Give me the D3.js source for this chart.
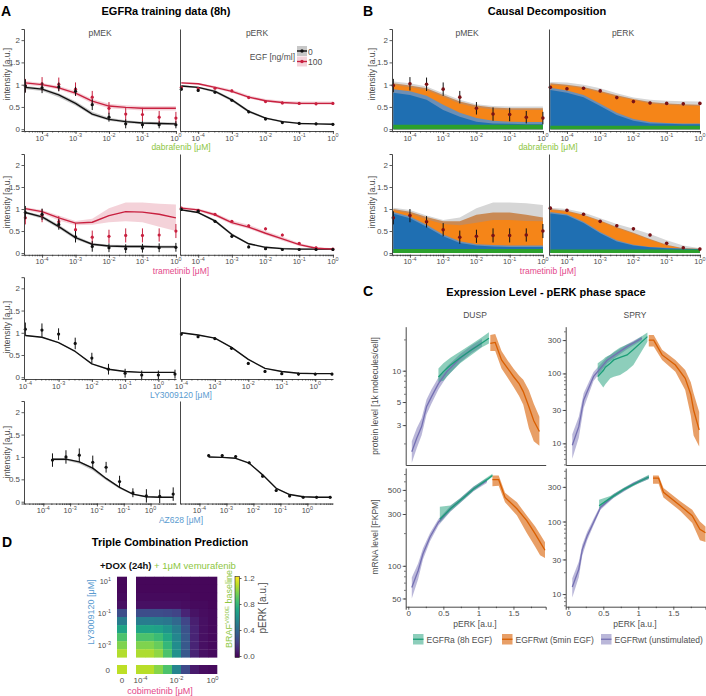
<!DOCTYPE html>
<html><head><meta charset="utf-8">
<script src="https://cdn.jsdelivr.net/npm/d3@7/dist/d3.min.js"></script>
<style>
html,body{margin:0;padding:0;background:#fff;}
svg{display:block;font-family:"Liberation Sans",Arial,Helvetica,sans-serif;}
</style></head>
<body><svg id="fig" width="706" height="696"></svg>
<script>
// ================= DATA =================
const dabDose=[3.16e-5,1e-4,3.16e-4,1e-3,3.16e-3,1e-2,3.16e-2,1e-1,3.16e-1,1];
const tramDose=[3.16e-5,1e-4,3.16e-4,1e-3,3.16e-3,1e-2,3.16e-2,1e-1,3.16e-1,1];
const lyDose=[1e-4,3.16e-4,1e-3,3.16e-3,1e-2,3.16e-2,1e-1,3.16e-1,1,3.16];
const azDose=[2.2e-4,7e-4,2.2e-3,7e-3,2.2e-2,7e-2,0.22,0.7,2.2,7];
const egfLevels=["0","100"];
const readouts=["pMEK","pERK"];

// A row 1 : dabrafenib
const mekDabObs0=[0.97,0.93,0.95,0.85,0.55,0.27,0.12,0.1,0.1,0.1];
const mekDabErr0=[0.15,0.12,0.1,0.1,0.12,0.1,0.1,0.08,0.08,0.08];
const mekDabObs100=[0.98,1.02,1.01,0.9,0.72,0.47,0.34,0.33,0.27,0.25];
const mekDabErr100=[0.15,0.15,0.15,0.15,0.14,0.14,0.15,0.15,0.14,0.14];
const mekDabFit0=[0.94,0.9,0.77,0.58,0.34,0.22,0.17,0.14,0.13,0.12];
const mekDabLo0=[0.9,0.86,0.72,0.53,0.3,0.19,0.14,0.11,0.1,0.09];
const mekDabHi0=[0.97,0.93,0.81,0.63,0.39,0.26,0.2,0.17,0.16,0.15];
const mekDabFit100=[1.04,1.0,0.93,0.81,0.63,0.52,0.49,0.47,0.47,0.47];
const mekDabLo100=[1.0,0.96,0.89,0.76,0.58,0.47,0.44,0.42,0.42,0.42];
const mekDabHi100=[1.08,1.04,0.97,0.86,0.68,0.57,0.54,0.52,0.52,0.52];
const erkDabObs0=[0.9,0.87,0.83,0.65,0.39,0.23,0.15,0.13,0.12,0.11];
const erkDabErr0=[0.03,0.03,0.03,0.03,0.03,0.03,0.03,0.03,0.03,0.03];
const erkDabObs100=[0.94,0.91,0.92,0.86,0.71,0.62,0.59,0.58,0.57,0.58];
const erkDabErr100=[0.03,0.03,0.03,0.03,0.03,0.03,0.03,0.03,0.03,0.03];
const erkDabFit0=[0.97,0.94,0.85,0.66,0.4,0.25,0.17,0.13,0.12,0.11];
const erkDabLo0=[0.95,0.92,0.82,0.62,0.37,0.23,0.15,0.12,0.11,0.1];
const erkDabHi0=[0.99,0.96,0.88,0.69,0.43,0.27,0.19,0.15,0.13,0.12];
const erkDabFit100=[1.04,1.02,0.94,0.85,0.72,0.64,0.6,0.58,0.58,0.58];
const erkDabLo100=[1.02,0.99,0.91,0.82,0.69,0.61,0.57,0.55,0.55,0.55];
const erkDabHi100=[1.06,1.04,0.97,0.89,0.76,0.68,0.64,0.62,0.62,0.62];

// A row 2 : trametinib
const mekTramObs0=[0.92,0.88,0.65,0.37,0.15,0.12,0.1,0.11,0.12,0.13];
const mekTramErr0=[0.15,0.13,0.12,0.13,0.12,0.1,0.1,0.1,0.1,0.1];
const mekTramObs100=[0.8,0.85,0.71,0.53,0.36,0.38,0.4,0.4,0.41,0.5];
const mekTramErr100=[0.15,0.15,0.13,0.15,0.15,0.15,0.16,0.16,0.15,0.16];
const mekTramFit0=[0.92,0.82,0.6,0.35,0.2,0.16,0.15,0.15,0.14,0.14];
const mekTramLo0=[0.89,0.78,0.56,0.31,0.17,0.13,0.12,0.12,0.11,0.11];
const mekTramHi0=[0.95,0.86,0.64,0.39,0.23,0.19,0.18,0.18,0.17,0.17];
const mekTramFit100=[1.01,0.94,0.8,0.68,0.7,0.85,0.94,0.93,0.88,0.8];
const mekTramLo100=[0.97,0.9,0.74,0.63,0.64,0.7,0.72,0.7,0.6,0.5];
const mekTramHi100=[1.04,0.98,0.85,0.73,0.78,1.02,1.15,1.15,1.12,1.1];
const erkTramObs0=[0.99,0.95,0.72,0.38,0.14,0.1,0.08,0.08,0.08,0.08];
const erkTramErr0=[0.03,0.03,0.03,0.03,0.03,0.03,0.03,0.03,0.03,0.03];
const erkTramObs100=[1.02,0.97,0.88,0.72,0.62,0.55,0.41,0.22,0.12,0.09];
const erkTramErr100=[0.03,0.03,0.03,0.03,0.03,0.03,0.03,0.03,0.03,0.03];
const erkTramFit0=[0.98,0.92,0.73,0.42,0.21,0.13,0.1,0.09,0.09,0.09];
const erkTramLo0=[0.96,0.9,0.7,0.39,0.19,0.11,0.08,0.07,0.07,0.07];
const erkTramHi0=[1.0,0.94,0.76,0.45,0.23,0.15,0.12,0.11,0.11,0.11];
const erkTramFit100=[1.02,0.98,0.87,0.69,0.59,0.45,0.32,0.19,0.11,0.09];
const erkTramLo100=[0.99,0.95,0.83,0.65,0.55,0.41,0.28,0.16,0.09,0.07];
const erkTramHi100=[1.05,1.01,0.91,0.74,0.64,0.5,0.37,0.23,0.14,0.11];

// A row 3 : LY3009120
const mekLyObs=[1.08,1.06,0.97,0.76,0.43,0.18,0.09,0.05,0.05,0.07];
const mekLyErr=[0.15,0.15,0.13,0.13,0.12,0.12,0.1,0.1,0.1,0.1];
const mekLyFit=[0.94,0.9,0.78,0.58,0.3,0.18,0.13,0.11,0.11,0.11];
const mekLyLo=[0.93,0.89,0.77,0.57,0.29,0.17,0.12,0.1,0.1,0.1];
const mekLyHi=[0.95,0.91,0.79,0.59,0.31,0.19,0.14,0.12,0.12,0.12];
const erkLyObs=[0.97,0.91,0.87,0.65,0.31,0.13,0.08,0.07,0.07,0.07];
const erkLyErr=[0.03,0.03,0.03,0.03,0.03,0.03,0.03,0.03,0.03,0.03];
const erkLyFit=[1.0,0.95,0.88,0.67,0.4,0.2,0.13,0.09,0.08,0.08];
const erkLyLo=[0.99,0.94,0.87,0.66,0.39,0.19,0.12,0.08,0.07,0.07];
const erkLyHi=[1.01,0.96,0.89,0.68,0.41,0.21,0.14,0.1,0.09,0.09];

// A row 4 : AZ628
const mekAzObs=[0.93,1.0,1.04,0.88,0.77,0.45,0.2,0.13,0.12,0.17];
const mekAzErr=[0.15,0.15,0.15,0.15,0.12,0.13,0.1,0.15,0.15,0.15];
const mekAzFit=[0.95,0.95,0.89,0.75,0.52,0.32,0.17,0.11,0.1,0.1];
const mekAzLo=[0.92,0.92,0.85,0.7,0.48,0.29,0.15,0.1,0.09,0.09];
const mekAzHi=[0.97,0.97,0.91,0.77,0.54,0.33,0.18,0.12,0.11,0.11];
const erkAzObs=[1.03,1.03,1.01,0.87,0.57,0.25,0.13,0.1,0.1,0.1];
const erkAzErr=[0.03,0.03,0.03,0.03,0.03,0.03,0.03,0.03,0.03,0.03];
const erkAzFit=[1.0,0.99,0.97,0.86,0.6,0.3,0.16,0.11,0.1,0.1];
const erkAzLo=[0.99,0.98,0.96,0.85,0.59,0.29,0.15,0.1,0.09,0.09];
const erkAzHi=[1.01,1.0,0.98,0.87,0.61,0.31,0.17,0.12,0.11,0.11];

// B : causal decomposition (layer tops)
const bMekDabGreen=[0.1,0.1,0.1,0.1,0.1,0.1,0.1,0.1,0.1,0.1];
const bMekDabBlue=[0.82,0.77,0.66,0.43,0.28,0.17,0.13,0.12,0.11,0.11];
const bMekDabBlueUnc=[0.9,0.85,0.75,0.55,0.37,0.25,0.19,0.17,0.16,0.16];
const bMekDabOrange=[1.0,0.94,0.88,0.73,0.58,0.49,0.45,0.43,0.43,0.43];
const bMekDabOrangeUnc=[1.03,0.98,0.92,0.77,0.62,0.53,0.49,0.47,0.47,0.47];
const bMekDabTotalUnc=[1.07,1.03,0.96,0.81,0.66,0.56,0.52,0.51,0.51,0.51];
const bErkDabGreen=[0.08,0.08,0.08,0.08,0.08,0.08,0.08,0.08,0.08,0.08];
const bErkDabBlue=[0.88,0.82,0.72,0.52,0.32,0.19,0.13,0.12,0.11,0.11];
const bErkDabBlueUnc=[0.93,0.87,0.77,0.57,0.37,0.23,0.16,0.14,0.13,0.13];
const bErkDabOrange=[1.0,0.97,0.92,0.83,0.73,0.66,0.58,0.55,0.53,0.52];
const bErkDabOrangeUnc=[1.03,1.0,0.95,0.86,0.76,0.68,0.61,0.58,0.56,0.55];
const bErkDabTotalUnc=[1.06,1.05,1.0,0.92,0.81,0.71,0.66,0.64,0.63,0.62];
const bMekTramGreen=[0.09,0.09,0.09,0.09,0.09,0.09,0.09,0.09,0.09,0.09];
const bMekTramBlue=[0.89,0.79,0.6,0.38,0.23,0.17,0.15,0.14,0.14,0.14];
const bMekTramBlueUnc=[0.93,0.83,0.64,0.42,0.27,0.2,0.18,0.17,0.17,0.17];
const bMekTramOrange=[0.97,0.9,0.77,0.66,0.63,0.69,0.75,0.75,0.73,0.72];
const bMekTramOrangeUnc=[1.0,0.94,0.82,0.72,0.72,0.87,0.92,0.92,0.87,0.81];
const bMekTramTotalUnc=[1.03,0.98,0.85,0.75,0.81,1.02,1.15,1.15,1.13,1.09];
const bErkTramGreen=[0.08,0.08,0.08,0.08,0.08,0.08,0.08,0.08,0.08,0.08];
const bErkTramBlue=[0.9,0.85,0.68,0.45,0.26,0.17,0.13,0.11,0.1,0.09];
const bErkTramBlueUnc=[0.93,0.88,0.71,0.48,0.29,0.19,0.14,0.12,0.1,0.09];
const bErkTramOrange=[0.98,0.94,0.85,0.72,0.57,0.44,0.3,0.17,0.1,0.09];
const bErkTramOrangeUnc=[1.0,0.96,0.87,0.74,0.59,0.46,0.32,0.19,0.11,0.1];
const bErkTramTotalUnc=[1.03,1.0,0.92,0.79,0.66,0.55,0.43,0.29,0.17,0.11];

// C : expression level vs pERK
const dProtUnstX=[0.05,0.12,0.19,0.26,0.33,0.43,0.55,0.74,0.9,1.05];
const dProtUnstMid=[1.66,2.24,2.9,4.5,5.6,7.5,9.8,13.2,16,18.5];
const dProtUnstLo=[1.3,1.8,2.4,3.8,4.8,6.6,8.8,12,14.7,17];
const dProtUnstHi=[2.1,2.8,3.5,5.3,6.6,8.6,11,14.5,17.5,20.2];
const dProtEgfraX=[0.43,0.5,0.6,0.74,0.9,1.05,1.15];
const dProtEgfraMid=[8.7,9.8,11.3,13.3,15.8,18.5,20.5];
const dProtEgfraLo=[7.8,8,9.5,11.8,14.2,16.8,18.3];
const dProtEgfraHi=[10.5,11.8,13.3,15.3,18,21,23.5];
const dProtWtX=[1.17,1.24,1.33,1.42,1.5,1.58,1.64,1.72,1.79,1.87];
const dProtWtMid=[18.3,18.7,12.7,10.5,8.8,7.5,6.3,4.5,3.3,2.6];
const dProtWtLo=[15.5,15.5,10.5,8.5,7,5.7,4.7,2.8,2.1,1.9];
const dProtWtHi=[22,22.5,15.5,12.5,10.5,9,8.2,6.5,4.8,3.6];

const sProtUnstX=[0.057,0.15,0.22,0.36,0.56,0.84,1.05];
const sProtUnstMid=[9.4,17.3,41.7,90,156,242,318];
const sProtUnstLo=[6,12,32,78,140,222,295];
const sProtUnstHi=[13.5,24,52,105,175,262,340];
const sProtEgfraX=[0.42,0.5,0.53,0.6,0.65,0.74,0.84,0.93,1.13];
const sProtEgfraMid=[90,110,123,140,156,170,184,220,336];
const sProtEgfraLo=[81,63,70,85,90,95,110,132,285];
const sProtEgfraHi=[140,160,170,185,205,235,260,285,385];
const sProtWtX=[1.15,1.22,1.34,1.53,1.67,1.75,1.79,1.87];
const sProtWtMid=[300,300,184,132,85,50,30,15.5];
const sProtWtLo=[242,242,156,106,58,25,13,9];
const sProtWtHi=[356,356,218,156,112,75,52,28];

const dMrnaUnstX=[0.05,0.14,0.21,0.31,0.43,0.6,0.74,0.93,1.12];
const dMrnaUnstMid=[63,90,129,184,252,335,399,511,608];
const dMrnaUnstLo=[50,75,115,168,235,315,378,485,580];
const dMrnaUnstHi=[78,105,145,200,270,355,420,538,640];
const dMrnaEgfraX=[0.45,0.6,0.74,0.93,1.12,1.2];
const dMrnaEgfraMid=[268,335,399,511,620,680];
const dMrnaEgfraLo=[250,318,380,490,600,660];
const dMrnaEgfraHi=[350,360,420,535,650,705];
const dMrnaWtX=[1.2,1.29,1.38,1.55,1.69,1.81,1.88,1.95];
const dMrnaWtMid=[621,621,427,335,261,197,165,139];
const dMrnaWtLo=[540,545,385,290,200,150,125,118];
const dMrnaWtHi=[680,680,470,385,290,230,195,165];

const sMrnaUnstX=[0.057,0.15,0.2,0.27,0.36,0.46,0.65,0.93,1.15];
const sMrnaUnstMid=[12.5,22,41,63,97,156,227,330,407];
const sMrnaUnstLo=[9,17,34,55,88,145,212,312,385];
const sMrnaUnstHi=[16.5,28,48,72,108,168,242,348,430];
const sMrnaEgfraX=[0.44,0.6,0.8,1.0,1.15];
const sMrnaEgfraMid=[165,210,280,350,410];
const sMrnaEgfraLo=[150,198,265,335,385];
const sMrnaEgfraHi=[200,225,295,370,440];
const sMrnaWtX=[1.21,1.29,1.36,1.6,1.77,1.88,1.96];
const sMrnaWtMid=[395,395,253,165,120,78,70];
const sMrnaWtLo=[330,330,215,140,95,55,52];
const sMrnaWtHi=[430,430,290,190,145,100,85];

const cLegendLabels=["EGFRa (8h EGF)","EGFRwt (5min EGF)","EGFRwt (unstimulated)"];

// D : triple combination heatmap
const dLyExp=[1,0.5,0,-0.5,-1,-1.5,-2,-2.5,-3,-3.5];
const dCobiExp=[-4,-3.5,-3,-2.5,-2,-1.5,-1,-0.5,0];
const dGrid=[
 [0.02,0.02,0.02,0.02,0.02,0.02,0.02,0.02,0.02],
 [0.02,0.02,0.02,0.02,0.02,0.02,0.02,0.02,0.02],
 [0.03,0.03,0.03,0.03,0.03,0.03,0.02,0.02,0.02],
 [0.05,0.05,0.05,0.05,0.05,0.04,0.03,0.03,0.02],
 [0.28,0.28,0.28,0.27,0.24,0.12,0.06,0.04,0.03],
 [0.5,0.5,0.49,0.47,0.4,0.25,0.1,0.05,0.03],
 [0.7,0.7,0.68,0.62,0.5,0.3,0.12,0.05,0.03],
 [0.86,0.86,0.82,0.72,0.55,0.33,0.12,0.05,0.03],
 [0.97,0.97,0.92,0.8,0.58,0.33,0.12,0.05,0.03],
 [1.05,1.05,1.0,0.86,0.6,0.33,0.12,0.05,0.03]];
const dCobiZero=[0.02,0.02,0.03,0.05,0.28,0.5,0.7,0.86,0.97,1.06];
const dLyZero=[1.07,1.07,0.98,0.86,0.54,0.27,0.08,0.04,0.03];
const dBothZero=1.08;
const dColorTicks=[0,0.4,0.8,1.2];

// ================= DRAWING =================
const svg=d3.select('#fig');
const FONT='"Liberation Sans", Arial, Helvetica, sans-serif';
const GRAY='#4d4d4d', AX='#333333', TXT='#1a1a1a';
const COL0='#111111', COL100='#c8203f';
const GREEN_T='#8dc63f', PINK_T='#e3488a', BLUE_T='#5a9bd0';

function txt(x,y,s,o={}){
  const t=svg.append('text').attr('x',x).attr('y',y).text(s)
    .attr('font-size',o.fs||9).attr('fill',o.fill||GRAY).attr('text-anchor',o.anchor||'start');
  if(o.bold) t.attr('font-weight','bold');
  if(o.rot) t.attr('transform',`rotate(${o.rot},${x},${y})`);
  return t;
}
function sup(x,y,base,exp,o={}){
  const fs=o.fs||8;
  const t=svg.append('text').attr('x',x).attr('y',y).attr('font-size',fs)
    .attr('fill',o.fill||GRAY).attr('text-anchor',o.anchor||'middle');
  t.append('tspan').text(base);
  t.append('tspan').attr('dy',-fs*0.42).attr('font-size',fs*0.72).text(exp);
  if(o.rot) t.attr('transform',`rotate(${o.rot},${x},${y})`);
  return t;
}
function styl(g,fs){
  g.attr('font-family',FONT).attr('font-size',fs||8);
  g.select('.domain').attr('stroke',AX).attr('stroke-width',0.9);
  g.selectAll('.tick line').attr('stroke',AX).attr('stroke-width',0.8);
  g.selectAll('.tick text').attr('fill',GRAY);
  return g;
}

// ---------- dose-response facets (A, B) ----------
const Y_DOSE=[-0.04,2.25];
function doseScales(xr,yr,xe){
  return {x:d3.scaleLog().domain([10**xe[0],10**xe[1]]).range(xr),
          y:d3.scaleLinear().domain(Y_DOSE).range([yr[1],yr[0]]), xr, yr};
}
function doseAxes(f,showY){
  const yAx=d3.axisLeft(f.y).tickSizeOuter(0);
  if(showY) yAx.tickValues([0,0.5,1,1.5,2]).tickSize(2.5).tickPadding(1.5).tickFormat(d3.format(''));
  else yAx.tickValues([]);
  styl(svg.append('g').attr('transform',`translate(${f.xr[0]},0)`).call(yAx));
  const dom=f.x.domain();
  const minors=[];
  for(let e=-6;e<=1;e++) for(let m=1;m<10;m++){const v=m*10**e; if(v>=dom[0]&&v<=dom[1]*1.0001) minors.push(v);}
  const majors=[1e-4,1e-3,1e-2,1e-1,1].filter(v=>v>=dom[0]&&v<=dom[1]*1.0001);
  styl(svg.append('g').attr('transform',`translate(0,${f.yr[1]})`)
    .call(d3.axisBottom(f.x).tickValues(minors).tickSize(1.5).tickSizeOuter(0).tickFormat('')));
  const gm=styl(svg.append('g').attr('transform',`translate(0,${f.yr[1]})`)
    .call(d3.axisBottom(f.x).tickValues(majors).tickSize(3).tickSizeOuter(0).tickFormat('')));
  gm.select('.domain').remove();
  majors.forEach(v=>sup(f.x(v),f.yr[1]+9.5,'10',String(Math.round(Math.log10(v))),{fs:7.5}));
}
function drawFit(f,dose,fit,lo,hi,color,bandFill){
  const d=dose.map((v,i)=>({x:v,y:fit[i],lo:lo[i],hi:hi[i]}));
  svg.append('path').datum(d).attr('fill',bandFill)
    .attr('d',d3.area().x(p=>f.x(p.x)).y0(p=>f.y(p.lo)).y1(p=>f.y(p.hi)));
  return ()=>svg.append('path').datum(d).attr('fill','none').attr('stroke',color).attr('stroke-width',1.4)
    .attr('stroke-linejoin','round').attr('d',d3.line().x(p=>f.x(p.x)).y(p=>f.y(p.y)));
}
function drawObs(f,dose,obs,err,color,barColor,r){
  const d=dose.map((v,i)=>({x:v,y:obs[i],e:err[i]}));
  const g=svg.append('g');
  g.selectAll('line').data(d).join('line')
    .attr('x1',p=>f.x(p.x)).attr('x2',p=>f.x(p.x))
    .attr('y1',p=>f.y(p.y-p.e)).attr('y2',p=>f.y(p.y+p.e))
    .attr('stroke',barColor||color).attr('stroke-width',1);
  g.selectAll('circle').data(d).join('circle')
    .attr('cx',p=>f.x(p.x)).attr('cy',p=>f.y(p.y)).attr('r',r||1.6).attr('fill',color);
}

const A_X=[[24,176],[180,333]];
const B_X=[[392,543],[549,700]];
const ROWS=[[29,131],[154,254.8],[277.2,379],[401,503.5]];
const XE=[[-4.54,0.003],[-4.54,0.003],[-4.04,0.53],[-4.72,0.95]];
const BAND0='rgba(0,0,0,0.22)', BAND100='rgba(200,32,63,0.2)';

// Panel A rows 1-2 (two EGF levels)
const aTwo=[
 {row:0,dose:dabDose,facets:[
   [mekDabFit0,mekDabLo0,mekDabHi0,mekDabFit100,mekDabLo100,mekDabHi100,mekDabObs0,mekDabErr0,mekDabObs100,mekDabErr100],
   [erkDabFit0,erkDabLo0,erkDabHi0,erkDabFit100,erkDabLo100,erkDabHi100,erkDabObs0,erkDabErr0,erkDabObs100,erkDabErr100]]},
 {row:1,dose:tramDose,facets:[
   [mekTramFit0,mekTramLo0,mekTramHi0,mekTramFit100,mekTramLo100,mekTramHi100,mekTramObs0,mekTramErr0,mekTramObs100,mekTramErr100],
   [erkTramFit0,erkTramLo0,erkTramHi0,erkTramFit100,erkTramLo100,erkTramHi100,erkTramObs0,erkTramErr0,erkTramObs100,erkTramErr100]]}
];
aTwo.forEach(R=>{
  R.facets.forEach((s,fi)=>{
    const f=doseScales(A_X[fi],ROWS[R.row],XE[R.row]);
    const l0=drawFit(f,R.dose,s[0],s[1],s[2],COL0,BAND0);
    const l1=drawFit(f,R.dose,s[3],s[4],s[5],COL100,BAND100);
    l0(); l1();
    drawObs(f,R.dose,s[8],s[9],COL100);
    drawObs(f,R.dose,s[6],s[7],COL0);
    doseAxes(f,fi===0);
  });
});
// Panel A rows 3-4 (single series)
const aOne=[
 {row:2,dose:lyDose,facets:[[mekLyFit,mekLyLo,mekLyHi,mekLyObs,mekLyErr],[erkLyFit,erkLyLo,erkLyHi,erkLyObs,erkLyErr]]},
 {row:3,dose:azDose,facets:[[mekAzFit,mekAzLo,mekAzHi,mekAzObs,mekAzErr],[erkAzFit,erkAzLo,erkAzHi,erkAzObs,erkAzErr]]}
];
aOne.forEach(R=>{
  R.facets.forEach((s,fi)=>{
    const f=doseScales(A_X[fi],ROWS[R.row],XE[R.row]);
    drawFit(f,R.dose,s[0],s[1],s[2],COL0,BAND0)();
    drawObs(f,R.dose,s[3],s[4],COL0);
    doseAxes(f,fi===0);
  });
});

// Panel B stacked decomposition
const B_COLORS=['#d6d6d6','#c98a55','#f58518','#6d8fb5','#1f6fb2','#2ca02c'];
const bPanels=[
 {row:0,dose:dabDose,facets:[
   [bMekDabTotalUnc,bMekDabOrangeUnc,bMekDabOrange,bMekDabBlueUnc,bMekDabBlue,bMekDabGreen,mekDabObs100,mekDabErr100],
   [bErkDabTotalUnc,bErkDabOrangeUnc,bErkDabOrange,bErkDabBlueUnc,bErkDabBlue,bErkDabGreen,erkDabObs100,erkDabErr100]]},
 {row:1,dose:tramDose,facets:[
   [bMekTramTotalUnc,bMekTramOrangeUnc,bMekTramOrange,bMekTramBlueUnc,bMekTramBlue,bMekTramGreen,mekTramObs100,mekTramErr100],
   [bErkTramTotalUnc,bErkTramOrangeUnc,bErkTramOrange,bErkTramBlueUnc,bErkTramBlue,bErkTramGreen,erkTramObs100,erkTramErr100]]}
];
bPanels.forEach(R=>{
  R.facets.forEach((s,fi)=>{
    const f=doseScales(B_X[fi],ROWS[R.row],XE[R.row]);
    for(let k=0;k<6;k++){
      svg.append('path').datum(R.dose.map((v,i)=>[v,s[k][i]])).attr('fill',B_COLORS[k])
        .attr('d',d3.area().x(p=>f.x(p[0])).y0(f.y(0)).y1(p=>f.y(p[1])));
    }
    drawObs(f,R.dose,s[6],s[7],'#7a1216','#111',1.8);
    doseAxes(f,fi===0);
  });
});

// Titles / labels A & B
txt(1,16,'A',{fs:14,bold:true,fill:'#000'});
txt(166,15,'EGFRa training data (8h)',{fs:11,bold:true,fill:'#000',anchor:'middle'});
txt(363,16,'B',{fs:14,bold:true,fill:'#000'});
txt(547,15,'Causal Decomposition',{fs:11,bold:true,fill:'#000',anchor:'middle'});
[[100,257],[467,623]].forEach(p=>{txt(p[0],36,readouts[0],{fs:8.5,anchor:'middle'});txt(p[1],36,readouts[1],{fs:8.5,anchor:'middle'});});
const rowYLab=[74,202,327,452];
rowYLab.forEach(c=>txt(9.5,c,'intensity [a.u.]',{fs:8.5,anchor:'middle',rot:-90}));
[74,202].forEach(c=>txt(375,c,'intensity [a.u.]',{fs:8.5,anchor:'middle',rot:-90}));
const drugLab=[['dabrafenib [μM]',GREEN_T],['trametinib [μM]',PINK_T],['LY3009120 [μM]',BLUE_T],['AZ628 [μM]',BLUE_T]];
drugLab.forEach((d,i)=>txt(181,ROWS[i][1]+19,d[0],{fs:8.5,fill:d[1],anchor:'middle'}));
drugLab.slice(0,2).forEach((d,i)=>txt(548,ROWS[i][1]+19,d[0],{fs:8.5,fill:d[1],anchor:'middle'}));

// legend (A row 1)
txt(295,60,'EGF [ng/ml]',{fs:8.5,anchor:'end'});
[[BAND0,COL0,46],[BAND100,COL100,56.5]].forEach((k,i)=>{
  svg.append('rect').attr('x',297).attr('y',k[2]).attr('width',10).attr('height',10).attr('fill',k[0]);
  svg.append('line').attr('x1',297).attr('x2',307).attr('y1',k[2]+5).attr('y2',k[2]+5).attr('stroke',k[1]).attr('stroke-width',1.4);
  svg.append('circle').attr('cx',302).attr('cy',k[2]+5).attr('r',1.7).attr('fill',k[1]);
  txt(308,k[2]+8.5,egfLevels[i],{fs:8.5});
});

// ---------- Panel C ----------
const C_XDOM=[-0.037,1.96];
const C_X=[[405.7,545.7],[565.7,705.5]];
const C_Y=[[326.7,465],[468,606.7]];
const CC={egfra:'#1b9e77',wt:'#d95f02',unst:'#7570b3'};
function cScales(xr,yr,ydom){return {x:d3.scaleLinear().domain(C_XDOM).range(xr),y:d3.scaleLog().domain(ydom).range([yr[1],yr[0]]),xr,yr};}
function cSeries(f,xs,mid,lo,hi,color,op){
  const d=xs.map((v,i)=>({x:v,m:mid[i],lo:lo[i],hi:hi[i]}));
  svg.append('path').datum(d).attr('fill',color).attr('fill-opacity',op)
    .attr('d',d3.area().x(p=>f.x(p.x)).y0(p=>f.y(p.lo)).y1(p=>f.y(p.hi)));
  return ()=>svg.append('path').datum(d).attr('fill','none').attr('stroke',color).attr('stroke-width',1.3)
    .attr('d',d3.line().x(p=>f.x(p.x)).y(p=>f.y(p.m)));
}
function cAxes(f,yticks,showX){
  const dom=f.y.domain(), minors=[];
  for(let e=Math.floor(Math.log10(dom[0]));e<=Math.ceil(Math.log10(dom[1]));e++)
    for(let m=1;m<10;m++){const v=m*10**e; if(v>=dom[0]&&v<=dom[1]) minors.push(v);}
  styl(svg.append('g').attr('transform',`translate(${f.xr[0]},0)`)
    .call(d3.axisLeft(f.y).tickValues(minors).tickSize(1.5).tickSizeOuter(0).tickFormat('')));
  const gl=styl(svg.append('g').attr('transform',`translate(${f.xr[0]},0)`)
    .call(d3.axisLeft(f.y).tickValues(yticks).tickSize(3).tickPadding(1.5).tickFormat(d3.format(''))));
  gl.select('.domain').remove();
  const bx=d3.axisBottom(f.x).tickSizeOuter(0);
  if(showX) bx.tickValues([0,0.5,1,1.5]).tickSize(3).tickPadding(1).tickFormat(d3.format(''));
  else bx.tickValues([]);
  styl(svg.append('g').attr('transform',`translate(0,${f.yr[1]})`).call(bx));
  if(showX){
    const gm=styl(svg.append('g').attr('transform',`translate(0,${f.yr[1]})`)
      .call(d3.axisBottom(f.x).tickValues([0.25,0.75,1.25,1.75]).tickSize(1.5).tickSizeOuter(0).tickFormat('')));
    gm.select('.domain').remove();
  }
}
const cPanels=[
 {xi:0,yi:0,ydom:[1.24,26.5],ticks:[3,5,10],s:[[dProtUnstX,dProtUnstMid,dProtUnstLo,dProtUnstHi],[dProtEgfraX,dProtEgfraMid,dProtEgfraLo,dProtEgfraHi],[dProtWtX,dProtWtMid,dProtWtLo,dProtWtHi]]},
 {xi:1,yi:0,ydom:[4.9,466],ticks:[10,30,100,300],s:[[sProtUnstX,sProtUnstMid,sProtUnstLo,sProtUnstHi],[sProtEgfraX,sProtEgfraMid,sProtEgfraLo,sProtEgfraHi],[sProtWtX,sProtWtMid,sProtWtLo,sProtWtHi]]},
 {xi:0,yi:1,ydom:[42,796],ticks:[50,100,300,500],s:[[dMrnaUnstX,dMrnaUnstMid,dMrnaUnstLo,dMrnaUnstHi],[dMrnaEgfraX,dMrnaEgfraMid,dMrnaEgfraLo,dMrnaEgfraHi],[dMrnaWtX,dMrnaWtMid,dMrnaWtLo,dMrnaWtHi]]},
 {xi:1,yi:1,ydom:[6.7,546],ticks:[10,30,100,300],s:[[sMrnaUnstX,sMrnaUnstMid,sMrnaUnstLo,sMrnaUnstHi],[sMrnaEgfraX,sMrnaEgfraMid,sMrnaEgfraLo,sMrnaEgfraHi],[sMrnaWtX,sMrnaWtMid,sMrnaWtLo,sMrnaWtHi]]}
];
cPanels.forEach(P=>{
  const f=cScales(C_X[P.xi],C_Y[P.yi],P.ydom);
  const cols=[[CC.unst,0.5],[CC.egfra,0.5],[CC.wt,0.6]];
  const lines=P.s.map((q,i)=>cSeries(f,q[0],q[1],q[2],q[3],cols[i][0],cols[i][1]));
  lines.forEach(l=>l());
  cAxes(f,P.ticks,P.yi===1);
});
txt(363,296,'C',{fs:14,bold:true,fill:'#000'});
txt(546,296,'Expression Level - pERK phase space',{fs:11,bold:true,fill:'#000',anchor:'middle'});
txt(475,318,'DUSP',{fs:8.5,anchor:'middle'});
txt(635,318,'SPRY',{fs:8.5,anchor:'middle'});
txt(378,396,'protein level [1k molecules/cell]',{fs:8.5,anchor:'middle',rot:-90});
txt(378,537,'mRNA level [FKPM]',{fs:8.5,anchor:'middle',rot:-90});
txt(475,627,'pERK [a.u.]',{fs:8.5,anchor:'middle'});
txt(635,627,'pERK [a.u.]',{fs:8.5,anchor:'middle'});
[[413,CC.egfra,0.5],[502,CC.wt,0.6],[601,CC.unst,0.5]].forEach((k,i)=>{
  svg.append('rect').attr('x',k[0]).attr('y',634).attr('width',10.5).attr('height',10.5).attr('fill',k[1]).attr('fill-opacity',k[2]);
  svg.append('line').attr('x1',k[0]).attr('x2',k[0]+10.5).attr('y1',639.25).attr('y2',639.25).attr('stroke',k[1]).attr('stroke-width',1.3);
  txt(k[0]+13.5,642.5,cLegendLabels[i],{fs:8.5});
});

// ---------- Panel D ----------
txt(2,547,'D',{fs:14,bold:true,fill:'#000'});
txt(170,546,'Triple Combination Prediction',{fs:11,bold:true,fill:'#000',anchor:'middle'});
const sub=svg.append('text').attr('x',100).attr('y',569).attr('font-size',9.5);
sub.append('tspan').text('+DOX (24h)').attr('fill','#111').attr('font-weight','bold');
sub.append('tspan').text(' + 1μM vemurafenib').attr('fill',GREEN_T);

const vir=d3.scaleSequential(d3.interpolateViridis).domain([0,1.2]);
const dX=d3.scaleBand().domain(dCobiExp).range([136,217]);
const dY=d3.scaleBand().domain(dLyExp).range([576.7,657.3]);
const cells=[];
dLyExp.forEach((ly,r)=>dCobiExp.forEach((cb,c)=>cells.push({ly,cb,v:dGrid[r][c]})));
svg.append('g').selectAll('rect').data(cells).join('rect')
  .attr('x',d=>dX(d.cb)).attr('y',d=>dY(d.ly)).attr('width',dX.bandwidth()+0.3).attr('height',dY.bandwidth()+0.3)
  .attr('fill',d=>vir(d.v));
svg.append('g').selectAll('rect').data(dLyExp.map((ly,i)=>({ly,v:dCobiZero[i]}))).join('rect')
  .attr('x',117).attr('y',d=>dY(d.ly)).attr('width',10).attr('height',dY.bandwidth()+0.3).attr('fill',d=>vir(d.v));
svg.append('g').selectAll('rect').data(dCobiExp.map((cb,i)=>({cb,v:dLyZero[i]}))).join('rect')
  .attr('x',d=>dX(d.cb)).attr('y',665).attr('width',dX.bandwidth()+0.3).attr('height',9).attr('fill',d=>vir(d.v));
svg.append('rect').attr('x',117).attr('y',665).attr('width',10).attr('height',9).attr('fill',vir(dBothZero));
[1,-1,-3].forEach(e=>sup(111,dY(e)+dY.bandwidth()/2+3,'10',String(e),{fs:7.5,anchor:'end'}));
txt(110,672.5,'0',{fs:8,anchor:'end'});
txt(122,683,'0',{fs:8,anchor:'middle'});
[-4,-2,0].forEach(e=>sup(dX(e)+dX.bandwidth()/2,683,'10',String(e),{fs:8}));
txt(160,694,'cobimetinib [μM]',{fs:9,fill:PINK_T,anchor:'middle'});
txt(93.5,612,'LY3009120 [μM]',{fs:9,fill:BLUE_T,anchor:'middle',rot:-90});

// color bar
const cb=d3.scaleLinear().domain([0,1.2]).range([656,578]);
const defs=svg.append('defs');
const grad=defs.append('linearGradient').attr('id','vgrad').attr('x1',0).attr('y1',1).attr('x2',0).attr('y2',0);
d3.range(0,1.0001,0.1).forEach(t=>grad.append('stop').attr('offset',t).attr('stop-color',d3.interpolateViridis(t)));
svg.append('rect').attr('x',235).attr('y',cb(1.2)-1.5).attr('width',4.5).attr('height',cb(0)-cb(1.2)+3)
  .attr('fill','url(#vgrad)').attr('stroke','#222').attr('stroke-width',0.6);
const gcb=styl(svg.append('g').attr('transform','translate(239.5,0)')
  .call(d3.axisRight(cb).tickValues(dColorTicks).tickSize(2).tickPadding(2).tickFormat(d3.format('.1f'))));
gcb.select('.domain').remove();
const braf=svg.append('text').attr('x',232).attr('y',609).attr('font-size',9).attr('fill',GREEN_T)
  .attr('text-anchor','middle').attr('transform','rotate(-90,232,609)');
braf.append('tspan').text('BRAF');
braf.append('tspan').attr('dy',-3.5).attr('font-size',6).text('V600E');
braf.append('tspan').attr('dy',3.5).text(' baseline');
txt(266,608,'pERK [a.u.]',{fs:10,anchor:'middle',rot:-90});
</script></body></html>
